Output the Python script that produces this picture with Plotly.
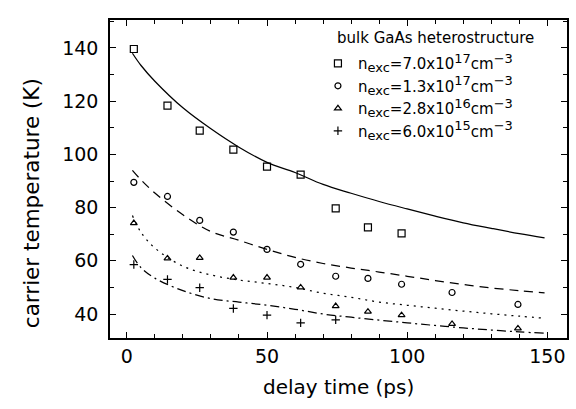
import plotly.graph_objects as go

# Measured carrier temperatures at each pump-probe delay
delay_ps = [2.5, 14.5, 26, 38, 50, 62, 74.5, 86, 98, 116, 139.5]
temp_7e17 = [139.6, 118.3, 108.9, 101.8, 95.4, 92.4, 79.7, 72.6, 70.3]
temp_1e17 = [89.5, 84.2, 75.2, 70.8, 64.3, 58.7, 54.2, 53.4, 51.2, 48.1, 43.6]
temp_3e16 = [74.2, 60.9, 61.1, 53.7, 53.7, 50.0, 43.0, 40.9, 39.6, 36.3, 34.6]
temp_6e15 = [58.6, 53.0, 49.9, 42.1, 39.6, 36.7, 37.8]

# Model cooling curves
fit_delay = [2, 5, 10, 20, 30, 40, 50, 60, 70, 80, 90, 100, 110, 120, 130, 140, 149]
fit_7e17 = [138.0, 133.5, 127.5, 117.5, 109.6, 102.7, 97.0, 93.2, 88.7, 85.4, 82.3, 79.5, 76.8, 74.3, 72.2, 70.2, 68.6]
fit_1e17 = [94.0, 90.5, 85.5, 77.3, 71.0, 67.7, 64.3, 61.3, 59.0, 57.3, 55.8, 54.2, 52.6, 51.1, 49.8, 48.8, 48.0]
fit_3e16 = [77.0, 70.8, 64.8, 58.0, 54.7, 52.8, 51.5, 50.0, 47.8, 46.3, 44.5, 43.3, 42.2, 41.1, 40.1, 39.2, 38.4]
fit_6e15 = [62.0, 57.5, 53.5, 48.8, 45.8, 44.5, 43.3, 41.8, 40.0, 38.8, 37.7, 36.7, 35.7, 34.8, 34.0, 33.3, 32.8]

legend_heading = "bulk GaAs heterostructure"
densities = [("7.0", "17"), ("1.3", "17"), ("2.8", "16"), ("6.0", "15")]
x_title = "delay time (ps)"
y_title = "carrier temperature (K)"

SMALL = "<span style='font-size:13px'>{}</span>"


def density_label(mant, expo):
    return ("n<sub>" + SMALL.format("exc") + "</sub>=" + mant + "x10<sup>"
            + SMALL.format(expo) + "</sup>cm<sup>" + SMALL.format("\u22123") + "</sup>")


labels = [density_label(m, e) for m, e in densities]
symbols = ["square-open", "circle-open", "triangle-up-open", "cross-thin-open"]
sizes = [7, 6, 6, 6]
measured = [temp_7e17, temp_1e17, temp_3e16, temp_6e15]
fits = [fit_7e17, fit_1e17, fit_3e16, fit_6e15]
dashes = ["solid", "9px,6px", "2px,5px", "9px,4px,2px,4px"]

FONT = "DejaVu Sans"
fig = go.Figure()

for fit, dash in zip(fits, dashes):
    fig.add_trace(go.Scatter(
        x=fit_delay, y=fit, mode="lines", showlegend=False,
        line=dict(color="black", width=1.25, dash=dash, shape="spline"),
        hoverinfo="skip",
    ))

for vals, sym, sz, lab in zip(measured, symbols, sizes, labels):
    fig.add_trace(go.Scatter(
        x=delay_ps[:len(vals)], y=vals, mode="markers", name=lab,
        marker=dict(symbol=sym, size=sz, color="black",
                    line=dict(color="black", width=1.2)),
    ))

axis_common = dict(
    showline=True, linecolor="black", linewidth=1.5, mirror="allticks",
    ticks="inside", ticklen=6, tickwidth=1, tickcolor="black",
    showgrid=False, zeroline=False,
    tickfont=dict(family=FONT, size=19, color="black"),
)

fig.update_layout(
    width=576, height=409,
    margin=dict(l=110, r=7, t=20, b=71),
    paper_bgcolor="white", plot_bgcolor="white",
    font=dict(family=FONT, color="black"),
    xaxis=dict(
        range=[-6, 157], tickvals=[0, 50, 100, 150],
        minor=dict(dtick=10, tick0=0, ticks="inside", ticklen=4, tickcolor="black"),
        **axis_common,
    ),
    yaxis=dict(
        range=[31, 150.5], tickvals=[40, 60, 80, 100, 120, 140],
        minor=dict(dtick=10, tick0=0, ticks="inside", ticklen=4, tickcolor="black"),
        ticklabelstandoff=6,
        **axis_common,
    ),
    legend=dict(
        x=0.455, y=0.915, xanchor="left", yanchor="top",
        bgcolor="rgba(0,0,0,0)", borderwidth=0,
        font=dict(family=FONT, size=15, color="black"),
        itemwidth=30, tracegroupgap=0,
    ),
    annotations=[
        dict(text=legend_heading, xref="paper", yref="paper",
             x=0.492, y=0.943, xanchor="left", yanchor="middle",
             showarrow=False, font=dict(family=FONT, size=15, color="black")),
        dict(text=x_title, xref="paper", yref="paper",
             x=0.5, y=-0.154, xanchor="center", yanchor="middle",
             showarrow=False, font=dict(family=FONT, size=20, color="black")),
        dict(text=y_title, xref="paper", yref="paper", textangle=-90,
             x=-0.17, y=0.425, xanchor="center", yanchor="middle",
             showarrow=False, font=dict(family=FONT, size=21.5, color="black")),
    ],
)

fig.write_html("out.html")
